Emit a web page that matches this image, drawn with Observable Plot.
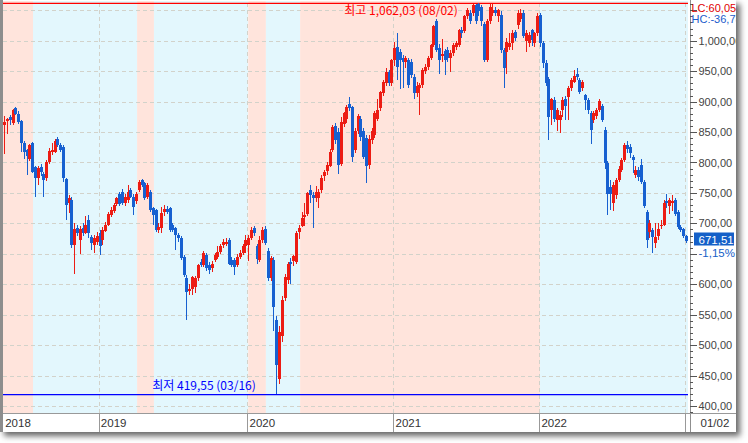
<!DOCTYPE html>
<html><head><meta charset="utf-8">
<script src="https://cdn.jsdelivr.net/npm/d3@7"></script>
<script src="https://cdn.jsdelivr.net/npm/@observablehq/plot@0.6"></script>
<style>
html,body{margin:0;padding:0;background:#fff;}
#frame{position:absolute;left:0;top:0;width:736px;height:432px;box-sizing:border-box;border-left:3px solid #8d8d8d;overflow:hidden;background:#fff;box-shadow:4px 4px 6px rgba(0,0,0,0.6);}
#frame svg{display:block;}
</style></head><body><div id="frame"></div>
<script>
// Weekly candles (KOSDAQ), first week = 2018-05-07, last week = 2023-01-02
// [open, high, low, close]
const weeks = [
[861,876,814,867],[868,873,847,871],[875,878,862,869],[865,888,862,886],[890,891,878,880],
[880,884,864,867],[868,870,818,832],[832,835,806,818],[820,822,780,810],[806,831,803,829],
[832,833,783,785],[793,795,744,774],[774,794,763,791],[793,797,778,784],[781,784,744,772],
[774,804,769,800],[800,823,797,819],[817,832,812,821],[818,838,815,836],[839,842,826,828],
[829,832,817,821],[826,829,768,774],[773,775,705,730],[733,747,717,742],[739,744,660,664],
[664,701,617,691],[692,698,680,684],[672,695,650,690],[693,700,679,684],[684,712,682,697],
[706,713,676,684],[677,681,656,668],[665,681,651,676],[670,686,665,680],[684,689,648,663],
[673,694,665,689],[688,702,685,698],[698,719,695,716],[714,727,710,722],[720,733,717,730],
[732,744,729,741],[749,752,728,731],[752,756,730,733],[733,748,729,744],[738,763,733,752],
[755,758,741,744],[744,748,714,727],[736,752,732,749],[755,771,752,768],[771,773,760,763],
[766,768,738,741],[744,766,740,763],[752,755,719,722],[725,727,697,714],[722,724,686,689],
[689,700,684,694],[692,727,684,717],[719,730,712,724],[724,728,715,719],[725,727,686,689],
[697,700,685,689],[692,694,656,681],[681,684,670,676],[676,679,640,643],[645,648,612,615],
[610,615,541,588],[589,601,582,593],[593,614,582,612],[596,614,585,611],[610,634,606,632],
[636,641,628,631],[632,655,628,651],[648,652,622,626],[632,636,617,623],[626,638,620,634],
[640,652,636,648],[645,662,641,653],[653,666,650,662],[665,674,660,670],[666,676,662,670],
[673,676,631,634],[640,645,628,632],[640,643,615,629],[632,649,628,645],[645,656,641,651],
[651,666,648,663],[662,681,651,672],[664,681,638,676],[676,694,672,689],[692,695,680,684],
[662,666,634,641],[640,680,636,673],[672,694,667,689],[691,696,665,668],[655,660,605,611],
[611,646,605,643],[640,645,524,563],[541,548,419.55,468],[445,531,436,522],[515,580,505,574],
[577,617,572,612],[607,637,600,634],[637,643,601,633],[638,648,630,646],[637,688,634,684],
[686,697,675,692],[695,719,694,708],[711,733,695,714],[715,752,712,750],[755,763,733,747],
[746,752,693,742],[742,762,735,752],[742,756,726,752],[755,780,750,774],[778,788,770,784],
[786,801,780,796],[794,822,792,818],[820,862,818,859],[860,865,830,837],[850,856,781,796],
[798,875,795,867],[863,883,858,881],[871,895,865,891],[896,908,885,889],[891,893,800,809],
[820,856,815,851],[852,880,846,876],[872,876,835,842],[851,856,805,809],[840,845,767,795],
[796,845,790,838],[837,856,830,851],[845,884,840,881],[872,905,868,886],[889,918,885,916],
[914,935,910,933],[930,955,926,949],[949,952,925,930],[930,970,925,968],[969,998,959,988],
[990,1012,935,957],[982,986,920,968],[971,977,922,965],[965,975,955,971],[968,972,922,927],
[965,970,938,944],[941,945,905,914],[914,932,908,925],[922,930,878,927],[927,955,922,952],
[950,962,945,957],[957,975,952,971],[971,995,968,993],[993,1026,990,1024],[1032,1036,982,985],
[988,995,946,968],[975,1003,965,978],[983,986,944,968],[985,990,965,972],[972,985,949,980],
[980,996,975,993],[990,1000,985,996],[993,1020,990,1018],[1018,1022,1005,1012],[1016,1043,1012,1041],
[1040,1054,1035,1051],[1046,1050,1028,1032],[1045,1060,1040,1059],[1058,1061,1028,1032],[1060,1062.03,1040,1048],
[1056,1058,1025,1032],[1028,1030,965,968],[968,1035,965,1032],[1032,1060,1028,1056],[1045,1060,1040,1051],
[1051,1055,1040,1045],[1040,1052,1030,1050],[1042,1048,980,985],[985,988,923,955],[982,1005,945,998],
[990,1012,985,996],[996,1017,984,1012],[1015,1018,1000,1004],[1026,1050,1020,1046],[1035,1052,1030,1046],
[1046,1050,1005,1007],[1000,1017,982,1012],[996,1015,990,1010],[1018,1020,991,1002],[996,1015,990,1012],
[1012,1045,1008,1041],[1042,1045,990,996],[996,1000,955,963],[963,968,925,930],[937,940,837,874],
[887,906,862,904],[903,908,866,872],[870,890,851,886],[870,885,848,878],[886,908,875,903],
[905,910,870,892],[908,925,870,923],[923,938,918,935],[933,952,930,942],[945,955,935,940],
[935,938,912,916],[923,935,918,932],[911,913,886,903],[903,906,880,886],[881,884,831,854],
[870,884,865,881],[876,890,872,886],[886,904,883,901],[892,896,866,870],[854,858,790,799],
[799,803,714,749],[760,772,722,749],[733,768,720,763],[747,775,740,771],[771,795,768,790],
[788,808,784,804],[804,832,800,828],[829,835,815,822],[825,830,808,815],[809,812,782,804],
[779,795,775,787],[787,792,770,776],[796,805,765,768],[768,772,725,729],[719,722,660,673],
[686,705,676,700],[689,692,651,678],[667,700,660,677],[680,700,672,690],[695,705,690,697],
[697,738,695,733],[737,749,725,734],[728,742,715,738],[733,746,720,737],[738,741,712,716],
[719,722,690,694],[694,697,685,689],[690,692,676,679.29],[680,681,668,671.51]
];

// background trend bands (week index ranges)
const bandFrom  = [-1, 10.3, 47.4, 53.4, 87.0, 93.3, 105.5, 191.0];
const bandTo    = [10.3, 47.4, 53.4, 87.0, 93.3, 105.5, 191.0, 250];
const bandColor = ["#ffe4dc","#e3f7fd","#ffe4dc","#e3f7fd","#ffe4dc","#e3f7fd","#ffe4dc","#e3f7fd"];

// year separators: first week index of each year
const yearLabels = ["2018","2019","2020","2021","2022"];
const yearStart  = [null, 34, 87, 139, 191, 243];

const yMajor = d3.range(400, 1051, 50);
const yMinor = d3.range(390, 1061, 10).filter(v => v % 50 !== 0);
// 650 label is hidden behind the change-rate text in the original
const yLabelVals = [400, 450, 500, 550, 600, 700, 750, 800, 850, 900, 950, 1000];

const hiVal = 1062.03, hiIdx = 169, hiText = "최고 1,062,03 (08/02)";
const loVal = 419.55,  loIdx = 97,  loText = "최저 419,55 (03/16)";
const lastText = "671,51", chgText = "-1,15%", lastDate = "01/02";
const lcText = "LC:60,05", hcText = "HC:-36,78";

const red = "#ec1c14", blue = "#1760d0";
const candles = weeks.map((w, i) => ({i, o: w[0], h: w[1], l: w[2], c: w[3]}));
const col = d => d.c >= d.o ? red : blue;
const bodyEnd = d => Math.abs(d.c - d.o) < 1.7 ? d.o + (d.c >= d.o ? 1.7 : -1.7) : d.c;

// page pixel helpers for decorations
const xAt = px => (px - 4.1) / 2.806;
const vAt = py => 400 + (406 - py) / 0.6088;
const X0 = xAt(3), X1 = xAt(688), Y0 = vAt(413), Y1 = vAt(1);

const fmt = v => d3.format(",.2f")(v).replace(".", ",");
const bands = bandFrom.map((f, k) => ({f: Math.max(f, X0), t: Math.min(bandTo[k], X1), c: bandColor[k]}));
const years = yearLabels.map((l, k) => ({l, i: yearStart[k]}));
const seps = yearStart.filter(d => d != null);
const grid = "#d2d2ca";
const FONT = "'Liberation Sans', Arial, sans-serif";
const KFONT = "'Noto Sans CJK KR', sans-serif";

const chart = Plot.plot({
  width: 733, height: 432,
  marginLeft: 0, marginRight: 48, marginTop: 1, marginBottom: 19,
  x: {type: "linear", domain: [X0, X1], axis: null},
  y: {type: "linear", domain: [Y0, Y1], axis: null},
  color: {type: "identity"},
  style: {background: "transparent", overflow: "visible", fontFamily: FONT},
  marks: [
    Plot.rect(bands, {x1: "f", x2: "t", y1: Y0, y2: Y1, fill: "c"}),
    Plot.ruleY(yMajor, {x1: X0, x2: X1, stroke: grid, strokeDasharray: "4,3", shapeRendering: "crispEdges"}),
    Plot.ruleX(seps, {x: d => d - 0.3, y1: Y0, y2: Y1, stroke: grid, strokeDasharray: "4,3", shapeRendering: "crispEdges"}),
    Plot.ruleY([hiVal], {x1: X0, x2: X1, stroke: "#ff0000", strokeWidth: 1.2}),
    Plot.ruleY([loVal], {x1: X0, x2: X1, stroke: "#0000ff", strokeWidth: 1.2}),
    Plot.ruleX(candles, {x: "i", y1: "l", y2: "h", stroke: col, strokeWidth: 1, shapeRendering: "crispEdges"}),
    Plot.ruleX(candles, {x: "i", y1: "o", y2: bodyEnd, stroke: col, strokeWidth: 3, shapeRendering: "crispEdges"}),
    Plot.text([hiText], {x: hiIdx, y: hiVal, text: d => d, dx: -21, dy: 8, textAnchor: "end", fill: "#ff0000", fontSize: 12, fontFamily: KFONT}),
    Plot.text([loText], {x: loIdx, y: loVal, text: d => d, dx: -21, dy: -8, textAnchor: "end", fill: "#0000ff", fontSize: 12, fontFamily: KFONT}),
    // right axis
    Plot.ruleX([xAt(689.5)], {y1: vAt(0), y2: vAt(432), stroke: "#8f8f8f", shapeRendering: "crispEdges"}),
    Plot.ruleY(yMajor, {x1: xAt(689.5), x2: xAt(697), stroke: "#555", shapeRendering: "crispEdges"}),
    Plot.ruleY(yMinor, {x1: xAt(689.5), x2: xAt(692.5), stroke: "#555", shapeRendering: "crispEdges"}),
    Plot.text(yLabelVals, {x: xAt(698), y: d => d, text: fmt, textAnchor: "start", fill: "#444", fontSize: 11}),
    Plot.text([lcText], {x: xAt(691), y: vAt(7.5), text: d => d, textAnchor: "start", fill: "#e00000", fontSize: 11}),
    Plot.text([hcText], {x: xAt(691), y: vAt(19), text: d => d, textAnchor: "start", fill: "#1a5ccc", fontSize: 11}),
    Plot.rect([lastText], {x1: xAt(694), x2: xAt(734), y1: vAt(245.5), y2: vAt(232.5), fill: "#1560c8"}),
    Plot.text([lastText], {x: xAt(698), y: vAt(239.5), text: d => d, textAnchor: "start", fill: "#fff", fontSize: 11.5}),
    Plot.text([chgText], {x: xAt(698), y: vAt(252.5), text: d => d, textAnchor: "start", fill: "#1560c8", fontSize: 11.5}),
    // bottom axis band
    Plot.ruleY([Y0], {x1: X0, x2: xAt(740), stroke: "#999", shapeRendering: "crispEdges"}),
    Plot.ruleX(seps, {x: d => d - 0.3, y1: Y0, y2: vAt(432), stroke: "#999", shapeRendering: "crispEdges"}),
    Plot.text(years, {x: d => d.i == null ? X0 : d.i - 0.3, dx: 1.7, y: vAt(422.5), text: "l", textAnchor: "start", fill: "#333", fontSize: 11.5}),
    Plot.text([lastDate], {x: xAt(700), y: vAt(422.5), text: d => d, textAnchor: "start", fill: "#333", fontSize: 11.5})
  ]
});
document.getElementById("frame").appendChild(chart);
</script>
</body></html>
